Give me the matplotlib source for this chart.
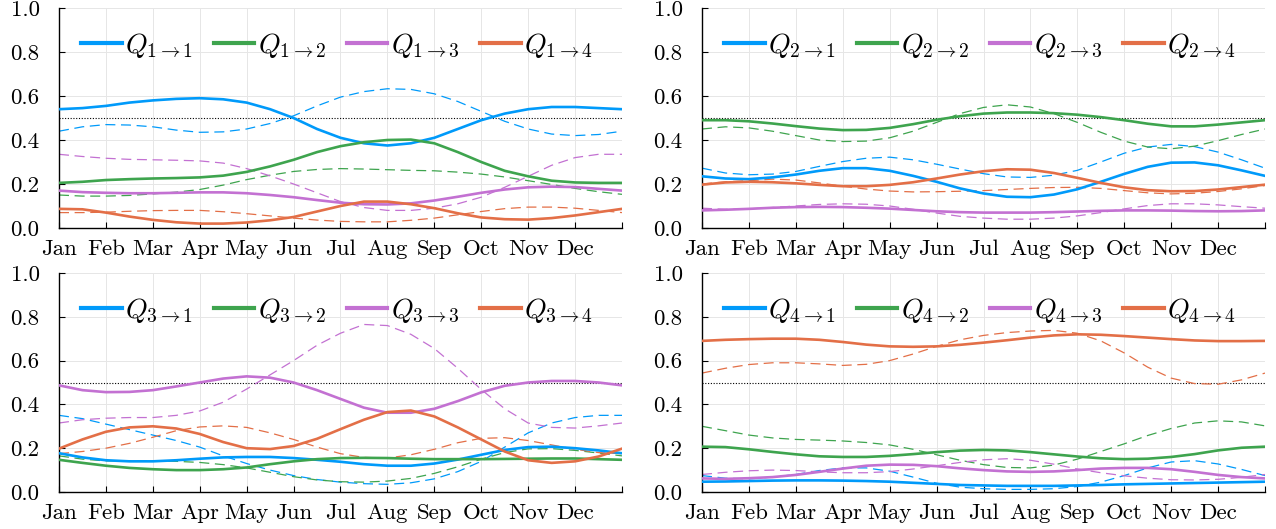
import numpy as np
import matplotlib
matplotlib.use("Agg")
import matplotlib.pyplot as plt

plt.rcParams['font.family'] = 'cmr10'
plt.rcParams['mathtext.fontset'] = 'cm'
plt.rcParams['axes.unicode_minus'] = False
plt.rcParams['axes.formatter.use_mathtext'] = True

months = ['Jan', 'Feb', 'Mar', 'Apr', 'May', 'Jun', 'Jul', 'Aug', 'Sep', 'Oct', 'Nov', 'Dec']
t = np.arange(1, 13.01, 0.5)   # half-month steps, 13 = Jan again

# state 1
q11_solid = [0.54, 0.545, 0.555, 0.57, 0.58, 0.587, 0.59, 0.585, 0.57, 0.54, 0.50, 0.45, 0.41,
             0.385, 0.375, 0.385, 0.41, 0.45, 0.49, 0.52, 0.54, 0.55, 0.55, 0.545, 0.54]
q11_dash = [0.44, 0.46, 0.47, 0.468, 0.46, 0.445, 0.435, 0.437, 0.45, 0.475, 0.51, 0.555, 0.595,
            0.62, 0.633, 0.63, 0.61, 0.575, 0.53, 0.485, 0.45, 0.427, 0.42, 0.425, 0.44]
q12_solid = [0.205, 0.21, 0.218, 0.222, 0.225, 0.227, 0.23, 0.238, 0.255, 0.28, 0.31, 0.345, 0.372,
             0.39, 0.40, 0.402, 0.385, 0.345, 0.30, 0.26, 0.235, 0.215, 0.207, 0.205, 0.205]
q12_dash = [0.15, 0.145, 0.145, 0.148, 0.155, 0.163, 0.175, 0.195, 0.22, 0.24, 0.257, 0.266, 0.27,
            0.268, 0.265, 0.262, 0.26, 0.254, 0.245, 0.232, 0.215, 0.198, 0.18, 0.165, 0.153]
q13_solid = [0.17, 0.163, 0.16, 0.158, 0.158, 0.16, 0.162, 0.162, 0.158, 0.15, 0.14, 0.127, 0.115,
             0.108, 0.107, 0.112, 0.125, 0.142, 0.16, 0.175, 0.185, 0.188, 0.186, 0.178, 0.17]
q13_dash = [0.335, 0.325, 0.317, 0.312, 0.31, 0.308, 0.305, 0.295, 0.27, 0.237, 0.20, 0.16, 0.12,
            0.093, 0.08, 0.08, 0.09, 0.11, 0.14, 0.185, 0.235, 0.285, 0.32, 0.335, 0.335]
q14_solid = [0.087, 0.085, 0.07, 0.052, 0.037, 0.026, 0.02, 0.02, 0.025, 0.035, 0.05, 0.075, 0.10,
             0.12, 0.12, 0.108, 0.09, 0.067, 0.048, 0.04, 0.038, 0.045, 0.057, 0.072, 0.087]
q14_dash = [0.07, 0.07, 0.072, 0.076, 0.079, 0.08, 0.08, 0.074, 0.065, 0.055, 0.045, 0.036, 0.03,
            0.028, 0.028, 0.035, 0.045, 0.06, 0.075, 0.088, 0.095, 0.095, 0.09, 0.08, 0.07]

# state 2
q21_solid = [0.235, 0.225, 0.222, 0.23, 0.243, 0.26, 0.272, 0.272, 0.26, 0.237, 0.21, 0.18, 0.157,
             0.142, 0.14, 0.152, 0.176, 0.21, 0.246, 0.278, 0.297, 0.298, 0.285, 0.262, 0.237]
q21_dash = [0.272, 0.25, 0.242, 0.245, 0.257, 0.28, 0.302, 0.317, 0.322, 0.31, 0.29, 0.268, 0.247,
            0.232, 0.23, 0.24, 0.262, 0.30, 0.34, 0.368, 0.38, 0.37, 0.345, 0.31, 0.272]
q22_solid = [0.49, 0.49, 0.485, 0.475, 0.463, 0.452, 0.445, 0.446, 0.455, 0.472, 0.492, 0.508, 0.52,
             0.525, 0.525, 0.522, 0.515, 0.504, 0.49, 0.474, 0.462, 0.462, 0.47, 0.48, 0.49]
q22_dash = [0.45, 0.46, 0.455, 0.44, 0.42, 0.40, 0.393, 0.395, 0.41, 0.44, 0.48, 0.52, 0.548,
            0.56, 0.55, 0.52, 0.48, 0.435, 0.395, 0.368, 0.36, 0.372, 0.397, 0.425, 0.45]
q23_solid = [0.08, 0.083, 0.087, 0.092, 0.095, 0.096, 0.095, 0.092, 0.088, 0.082, 0.076, 0.072, 0.07,
             0.07, 0.07, 0.072, 0.075, 0.078, 0.08, 0.08, 0.079, 0.077, 0.076, 0.077, 0.08]
q23_dash = [0.09, 0.085, 0.087, 0.093, 0.10, 0.107, 0.11, 0.108, 0.10, 0.085, 0.068, 0.053, 0.045,
            0.04, 0.04, 0.045, 0.055, 0.07, 0.087, 0.102, 0.11, 0.11, 0.105, 0.097, 0.09]
q24_solid = [0.197, 0.207, 0.21, 0.208, 0.203, 0.196, 0.19, 0.19, 0.196, 0.208, 0.225, 0.243, 0.258,
             0.267, 0.265, 0.25, 0.228, 0.205, 0.185, 0.172, 0.167, 0.168, 0.175, 0.186, 0.197]
q24_dash = [0.20, 0.21, 0.215, 0.222, 0.218, 0.205, 0.19, 0.177, 0.168, 0.164, 0.165, 0.167, 0.17,
            0.175, 0.18, 0.184, 0.185, 0.18, 0.17, 0.16, 0.155, 0.158, 0.166, 0.178, 0.193]

# state 3
q31_solid = [0.177, 0.158, 0.145, 0.14, 0.14, 0.145, 0.152, 0.158, 0.16, 0.16, 0.155, 0.147, 0.138,
             0.127, 0.12, 0.12, 0.13, 0.148, 0.17, 0.192, 0.205, 0.207, 0.20, 0.19, 0.177]
q31_dash = [0.35, 0.335, 0.31, 0.285, 0.26, 0.235, 0.205, 0.165, 0.13, 0.10, 0.075, 0.057, 0.045,
            0.038, 0.035, 0.042, 0.06, 0.093, 0.14, 0.205, 0.27, 0.315, 0.34, 0.35, 0.35]
q32_solid = [0.147, 0.133, 0.12, 0.11, 0.104, 0.10, 0.10, 0.104, 0.112, 0.127, 0.14, 0.15, 0.155,
             0.156, 0.155, 0.152, 0.15, 0.15, 0.15, 0.151, 0.152, 0.153, 0.153, 0.15, 0.147]
q32_dash = [0.165, 0.15, 0.142, 0.142, 0.142, 0.14, 0.135, 0.125, 0.11, 0.09, 0.07, 0.055, 0.047,
            0.045, 0.05, 0.062, 0.085, 0.115, 0.15, 0.18, 0.197, 0.198, 0.19, 0.178, 0.165]
q33_solid = [0.487, 0.465, 0.456, 0.457, 0.465, 0.482, 0.50, 0.518, 0.528, 0.522, 0.50, 0.465, 0.425,
             0.385, 0.362, 0.362, 0.38, 0.415, 0.455, 0.485, 0.50, 0.507, 0.507, 0.50, 0.487]
q33_dash = [0.315, 0.33, 0.337, 0.34, 0.34, 0.35, 0.37, 0.41, 0.47, 0.535, 0.60, 0.67, 0.725,
            0.765, 0.76, 0.72, 0.655, 0.565, 0.468, 0.38, 0.315, 0.295, 0.292, 0.302, 0.315]
q34_solid = [0.198, 0.24, 0.275, 0.295, 0.30, 0.29, 0.265, 0.228, 0.20, 0.196, 0.21, 0.243, 0.287,
             0.33, 0.365, 0.372, 0.345, 0.295, 0.24, 0.185, 0.145, 0.133, 0.14, 0.162, 0.198]
q34_dash = [0.175, 0.185, 0.20, 0.222, 0.25, 0.28, 0.297, 0.302, 0.295, 0.27, 0.24, 0.205, 0.175,
            0.158, 0.155, 0.17, 0.195, 0.225, 0.245, 0.248, 0.235, 0.215, 0.195, 0.18, 0.175]

# state 4
q41_solid = [0.047, 0.048, 0.05, 0.052, 0.053, 0.053, 0.052, 0.05, 0.047, 0.042, 0.037, 0.032, 0.03,
             0.028, 0.028, 0.028, 0.03, 0.032, 0.035, 0.037, 0.039, 0.041, 0.043, 0.045, 0.047]
q41_dash = [0.075, 0.063, 0.06, 0.068, 0.08, 0.098, 0.11, 0.11, 0.095, 0.068, 0.04, 0.022, 0.015,
            0.012, 0.012, 0.015, 0.025, 0.045, 0.075, 0.11, 0.137, 0.143, 0.128, 0.103, 0.075]
q42_solid = [0.207, 0.205, 0.195, 0.183, 0.172, 0.163, 0.16, 0.16, 0.165, 0.173, 0.182, 0.189, 0.192,
             0.19, 0.182, 0.172, 0.162, 0.154, 0.15, 0.152, 0.16, 0.173, 0.19, 0.202, 0.207]
q42_dash = [0.30, 0.28, 0.26, 0.247, 0.24, 0.237, 0.233, 0.226, 0.215, 0.195, 0.17, 0.145, 0.125,
            0.112, 0.11, 0.123, 0.15, 0.185, 0.22, 0.258, 0.29, 0.315, 0.325, 0.32, 0.302]
q43_solid = [0.062, 0.06, 0.063, 0.068, 0.078, 0.092, 0.107, 0.12, 0.125, 0.124, 0.118, 0.108, 0.10,
             0.094, 0.092, 0.094, 0.10, 0.107, 0.11, 0.11, 0.104, 0.092, 0.078, 0.068, 0.062]
q43_dash = [0.08, 0.09, 0.097, 0.10, 0.098, 0.092, 0.088, 0.088, 0.093, 0.105, 0.12, 0.135, 0.147,
            0.152, 0.145, 0.127, 0.105, 0.088, 0.074, 0.063, 0.056, 0.055, 0.058, 0.067, 0.08]
q44_solid = [0.69, 0.695, 0.698, 0.70, 0.70, 0.695, 0.685, 0.673, 0.665, 0.663, 0.665, 0.672, 0.682,
             0.693, 0.705, 0.715, 0.72, 0.718, 0.712, 0.705, 0.698, 0.692, 0.689, 0.689, 0.69]
q44_dash = [0.543, 0.565, 0.582, 0.59, 0.59, 0.585, 0.578, 0.583, 0.60, 0.63, 0.665, 0.695, 0.715,
            0.728, 0.735, 0.738, 0.725, 0.69, 0.635, 0.57, 0.52, 0.495, 0.492, 0.512, 0.543]

colors = ['#009AFA', '#3EA44E', '#C371D2', '#E36F47']

panels = [
    [(q11_solid, q11_dash), (q12_solid, q12_dash), (q13_solid, q13_dash), (q14_solid, q14_dash)],
    [(q21_solid, q21_dash), (q22_solid, q22_dash), (q23_solid, q23_dash), (q24_solid, q24_dash)],
    [(q31_solid, q31_dash), (q32_solid, q32_dash), (q33_solid, q33_dash), (q34_solid, q34_dash)],
    [(q41_solid, q41_dash), (q42_solid, q42_dash), (q43_solid, q43_dash), (q44_solid, q44_dash)],
]

W, H = 1276, 529
fig = plt.figure(figsize=(W / 100, H / 100), dpi=100)

# axes boxes in pixels: left, right, top, bottom
boxes = [(59, 622, 8, 228), (702, 1265, 8, 228), (59, 622, 273, 492), (702, 1265, 273, 492)]

for k, (series, box) in enumerate(zip(panels, boxes)):
    l, r, tp, b = box
    ax = fig.add_axes([l / W, 1 - b / H, (r - l) / W, (b - tp) / H])
    i = k + 1
    for j, (solid, dash) in enumerate(series):
        c = colors[j]
        ax.plot(t, dash, color=c, lw=0.9, ls=(0, (8, 4.5)), zorder=2)
        ax.plot(t, solid, color=c, lw=1.9, solid_joinstyle='round', zorder=3,
                label=r'$Q_{%d\rightarrow%d}$' % (i, j + 1))
    ax.axhline(0.5, color='black', lw=0.8, ls=(0, (1, 1.5)), zorder=1)

    ax.set_xlim(1, 13)
    ax.set_ylim(0, 1)
    ax.set_xticks(range(1, 14))
    ax.set_xticklabels(months + [''])
    ax.set_yticks(np.arange(0, 1.01, 0.2))
    ax.set_yticklabels(['0.0', '0.2', '0.4', '0.6', '0.8', '1.0'])
    ax.tick_params(direction='in', length=4, width=0.8, labelsize=16.5)
    ax.tick_params(axis='x', pad=8)
    ax.tick_params(axis='y', pad=14)
    ax.grid(True, color='#e6e6e6', lw=0.7, zorder=0)
    ax.set_axisbelow(True)
    for s in ['top', 'right']:
        ax.spines[s].set_visible(False)
    for s in ['left', 'bottom']:
        ax.spines[s].set_linewidth(1.0)

    leg = ax.legend(loc='center left', bbox_to_anchor=(0.02, 0.83), ncol=4, frameon=False,
                    fontsize=20, handlelength=1.45, handletextpad=0.12, columnspacing=0.75,
                    borderaxespad=0)
    for h in leg.get_lines():
        h.set_linewidth(3)

fig.savefig('out.png', dpi=100)
